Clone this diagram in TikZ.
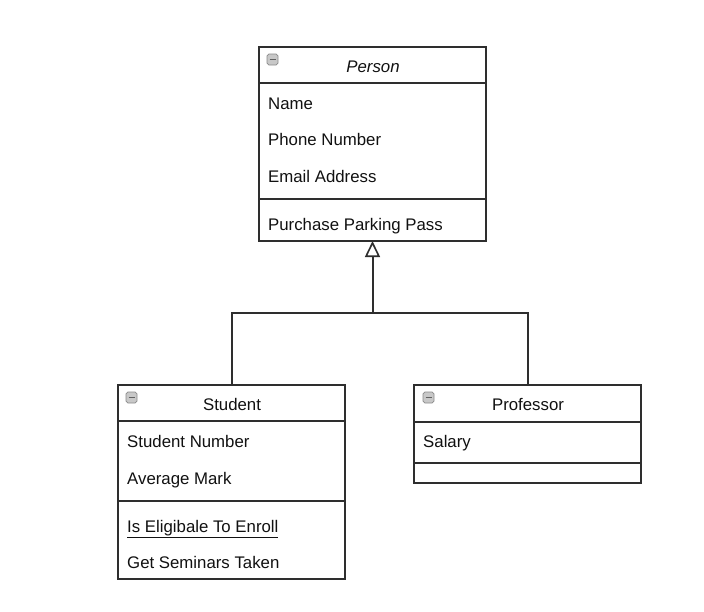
\documentclass[tikz,border=0pt]{standalone}
\usepackage{fontspec}
\setmainfont{Liberation Sans}
\usetikzlibrary{arrows.meta,calc}
\definecolor{linec}{HTML}{2E2E2E}
\definecolor{textc}{HTML}{111111}
\definecolor{iconfill}{HTML}{C8C8C8}
\definecolor{icondraw}{HTML}{8A8A8A}
\tikzset{
  umlbox/.style={draw=linec, line width=1.5pt, inner sep=0pt, outer sep=0pt, fill=white},
  sepline/.style={draw=linec, line width=1.5pt},
  item/.style={anchor=west, inner sep=0pt, text=textc, font=\fontsize{16.8}{19}\selectfont, text height=12pt, text depth=3.5pt},
  title/.style={inner sep=0pt, text=textc, font=\fontsize{16.8}{19}\selectfont, text height=12pt, text depth=3.5pt},
  icon/.style={draw=icondraw, fill=iconfill, rounded corners=1.8pt, line width=0.7pt, minimum width=11pt, minimum height=11pt, inner sep=0pt},
  conn/.style={draw=linec, line width=2pt},
}
\begin{document}
\begin{tikzpicture}[x=1pt,y=-1pt]
\useasboundingbox[fill=white] (0,0) rectangle (704,611);
% Person
\node[umlbox, minimum width=227pt, minimum height=194pt] (person) at (372.5,144) {};
\draw[sepline] (person.west |- 0,83) -- (person.east |- 0,83);
\draw[sepline] (person.west |- 0,199) -- (person.east |- 0,199);
\node[icon] (picon) at (272.5,59.5) {};
\draw[icondraw!70!black, line width=1pt] ($(picon.center)+(-3,0)$) -- ($(picon.center)+(3,0)$);
\node[title, font=\fontsize{16.8}{19}\selectfont\itshape] (ptitle) at (373,68) {Person};
\node[item] (pname) at (268,105) {Name};
\node[item] (pphone) at (268,141) {Phone Number};
\node[item] (pemail) at (268,178) {Email Address};
\node[item] (ppark) at (268,226) {Purchase Parking Pass};
% Student
\node[umlbox, minimum width=227pt, minimum height=194pt] (student) at (231.5,482) {};
\draw[sepline] (student.west |- 0,421) -- (student.east |- 0,421);
\draw[sepline] (student.west |- 0,501) -- (student.east |- 0,501);
\node[icon] (sicon) at (131.5,397.5) {};
\draw[icondraw!70!black, line width=1pt] ($(sicon.center)+(-3,0)$) -- ($(sicon.center)+(3,0)$);
\node[title] (stitle) at (232,406) {Student};
\node[item] (snum) at (127,443) {Student Number};
\node[item] (smark) at (127,480) {Average Mark};
\node[item] (selig) at (127,528) {\underline{Is Eligibale To Enroll}};
\node[item] (ssem) at (127,564) {Get Seminars Taken};
% Professor
\node[umlbox, minimum width=227pt, minimum height=98pt] (professor) at (527.5,434) {};
\draw[sepline] (professor.west |- 0,422) -- (professor.east |- 0,422);
\draw[sepline] (professor.west |- 0,463) -- (professor.east |- 0,463);
\node[icon] (ficon) at (428.5,397.5) {};
\draw[icondraw!70!black, line width=1pt] ($(ficon.center)+(-3,0)$) -- ($(ficon.center)+(3,0)$);
\node[title] (ftitle) at (528,406) {Professor};
\node[item] (fsal) at (423,443) {Salary};
% Connectors
\coordinate (junc) at (372.5,313);
\draw[conn] (student.north) |- (junc);
\draw[conn] (professor.north) |- (junc);
\draw[conn, -{Triangle[open, length=16pt, width=15pt, line width=1.6pt]}] (junc) -- (person.south);
\end{tikzpicture}
\end{document}
